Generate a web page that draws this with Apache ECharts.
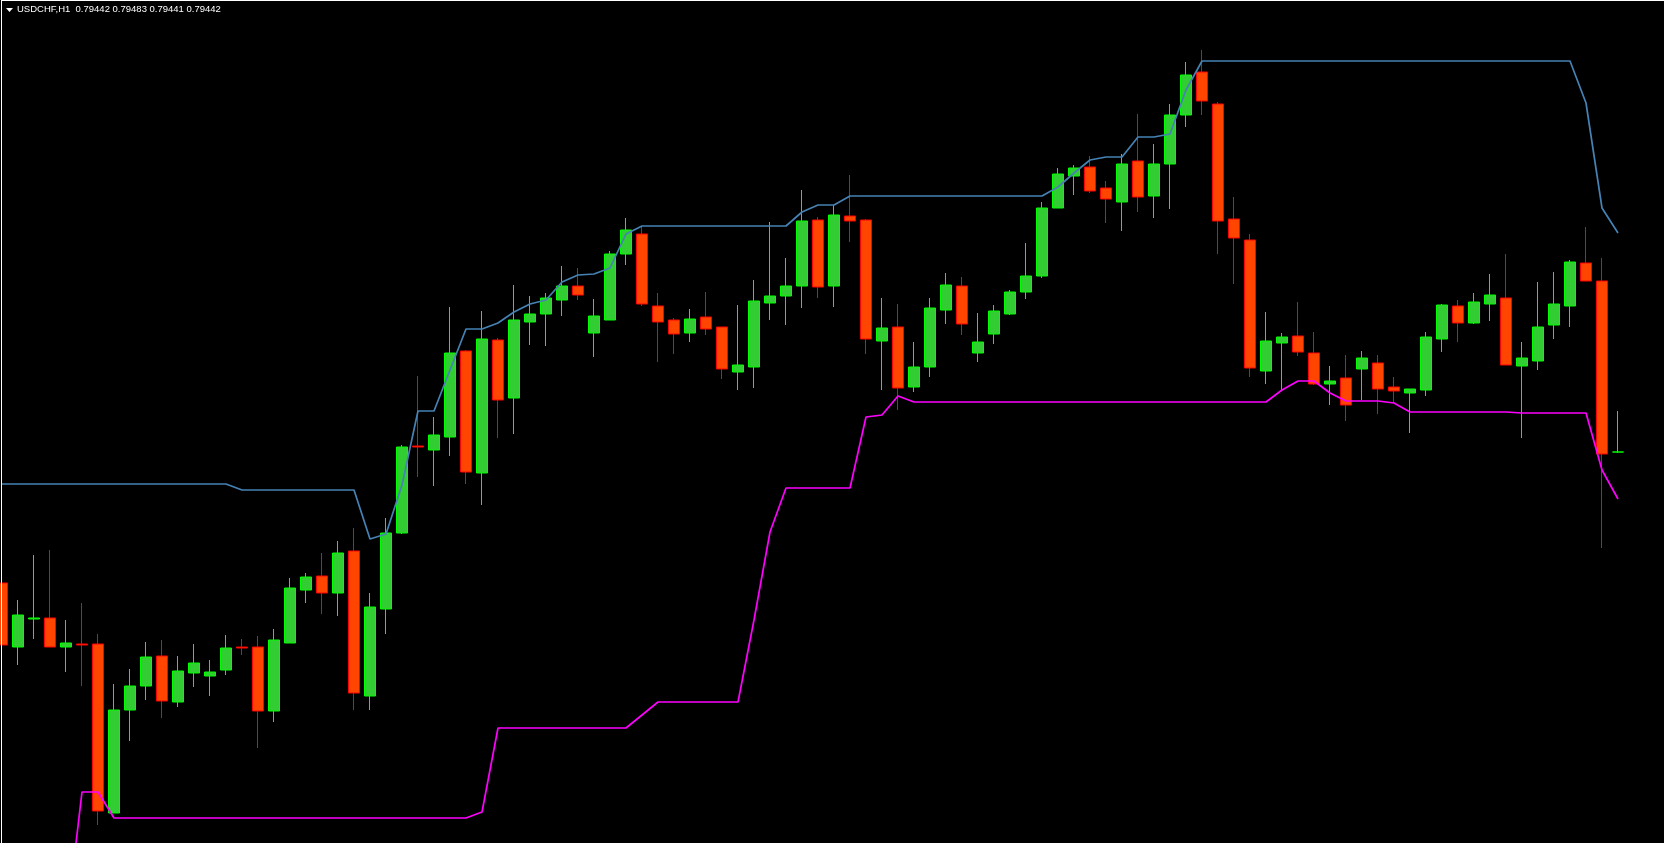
<!DOCTYPE html>
<html>
<head>
<meta charset="utf-8">
<style>
html,body{margin:0;padding:0;background:#000;overflow:hidden;}
#chart{position:absolute;left:-6px;top:0;width:1670px;height:843px;}
</style>
<script src="https://cdn.jsdelivr.net/npm/echarts@6/dist/echarts.min.js"></script>
</head>
<body>
<div id="chart"></div>
<script>
const symbolName = 'USDCHF,H1';
const headerQuote = ['0.79442', '0.79483', '0.79441', '0.79442'];

const opens = [
0.79311,0.79247,0.79275,0.79276,0.79247,0.79250,0.79250,0.79081,0.79184,0.79208,
0.79238,0.79192,0.79221,0.79218,0.79224,0.79247,0.79247,0.79183,0.79251,0.79304,
0.79318,0.79301,0.79343,0.79198,0.79285,0.79361,0.79448,0.79444,0.79457,0.79543,
0.79421,0.79554,0.79496,0.79572,0.79580,0.79594,0.79608,0.79561,0.79574,0.79640,
0.79660,0.79588,0.79574,0.79561,0.79577,0.79567,0.79522,0.79527,0.79591,0.79598,
0.79608,0.79674,0.79608,0.79678,0.79674,0.79553,0.79567,0.79507,0.79527,0.79584,
0.79608,0.79541,0.79560,0.79580,0.79602,0.79618,0.79686,0.79718,0.79727,0.79706,
0.79692,0.79733,0.79698,0.79730,0.79779,0.79822,0.79790,0.79675,0.79654,0.79523,
0.79551,0.79558,0.79541,0.79510,0.79516,0.79525,0.79531,0.79507,0.79501,0.79504,
0.79555,0.79588,0.79571,0.79590,0.79596,0.79528,0.79533,0.79569,0.79588,0.79631,
0.79613,0.79442];

const closes = [
0.79249,0.79279,0.79276,0.79247,0.79251,0.79249,0.79083,0.79184,0.79208,0.79237,
0.79193,0.79223,0.79231,0.79222,0.79246,0.79246,0.79183,0.79254,0.79306,0.79317,
0.79301,0.79341,0.79201,0.79287,0.79361,0.79447,0.79447,0.79459,0.79541,0.79422,
0.79555,0.79494,0.79574,0.79580,0.79596,0.79608,0.79599,0.79578,0.79640,0.79664,
0.79590,0.79572,0.79560,0.79575,0.79565,0.79525,0.79529,0.79593,0.79598,0.79608,
0.79673,0.79607,0.79679,0.79673,0.79555,0.79566,0.79506,0.79527,0.79586,0.79609,
0.79570,0.79552,0.79583,0.79602,0.79618,0.79686,0.79720,0.79726,0.79703,0.79695,
0.79730,0.79697,0.79730,0.79779,0.79819,0.79793,0.79673,0.79656,0.79526,0.79553,
0.79557,0.79542,0.79510,0.79513,0.79489,0.79536,0.79505,0.79503,0.79505,0.79557,
0.79589,0.79571,0.79592,0.79599,0.79529,0.79536,0.79567,0.79590,0.79632,0.79613,
0.79440,0.79442];

const lows = [
0.79235,0.79229,0.79255,0.79247,0.79222,0.79208,0.79069,0.79081,0.79153,0.79194,
0.79176,0.79187,0.79207,0.79198,0.79219,0.79239,0.79146,0.79172,0.79251,0.79291,
0.79280,0.79278,0.79184,0.79184,0.79260,0.79360,0.79417,0.79408,0.79438,0.79410,
0.79389,0.79456,0.79460,0.79549,0.79548,0.79578,0.79594,0.79537,0.79574,0.79629,
0.79588,0.79532,0.79540,0.79552,0.79559,0.79515,0.79504,0.79506,0.79574,0.79569,
0.79586,0.79596,0.79587,0.79652,0.79540,0.79504,0.79484,0.79502,0.79517,0.79570,
0.79559,0.79532,0.79550,0.79579,0.79595,0.79616,0.79686,0.79699,0.79701,0.79671,
0.79663,0.79682,0.79676,0.79685,0.79767,0.79779,0.79640,0.79610,0.79517,0.79510,
0.79504,0.79538,0.79509,0.79489,0.79473,0.79494,0.79480,0.79491,0.79461,0.79498,
0.79542,0.79552,0.79570,0.79573,0.79529,0.79456,0.79524,0.79555,0.79567,0.79613,
0.79346,0.79441];

const highs = [
0.79340,0.79294,0.79339,0.79344,0.79274,0.79291,0.79260,0.79210,0.79225,0.79252,
0.79254,0.79238,0.79250,0.79234,0.79259,0.79255,0.79258,0.79265,0.79316,0.79321,
0.79341,0.79353,0.79366,0.79301,0.79376,0.79449,0.79518,0.79477,0.79587,0.79544,
0.79583,0.79556,0.79609,0.79598,0.79601,0.79628,0.79626,0.79595,0.79643,0.79676,
0.79668,0.79601,0.79576,0.79585,0.79602,0.79567,0.79589,0.79614,0.79672,0.79636,
0.79704,0.79677,0.79689,0.79719,0.79675,0.79596,0.79590,0.79552,0.79596,0.79621,
0.79617,0.79581,0.79589,0.79604,0.79651,0.79692,0.79726,0.79729,0.79738,0.79713,
0.79740,0.79780,0.79750,0.79790,0.79832,0.79844,0.79792,0.79697,0.79660,0.79582,
0.79561,0.79592,0.79562,0.79528,0.79539,0.79543,0.79539,0.79517,0.79505,0.79562,
0.79590,0.79594,0.79601,0.79620,0.79640,0.79552,0.79612,0.79622,0.79634,0.79667,
0.79636,0.79483];

const upperBand = [
0.79410,0.79410,0.79410,0.79410,0.79410,0.79410,0.79410,0.79410,0.79410,0.79410,
0.79410,0.79410,0.79410,0.79410,0.79410,0.79404,0.79404,0.79404,0.79404,0.79404,
0.79404,0.79404,0.79404,0.79355,0.79360,0.79409,0.79483,0.79483,0.79524,0.79565,
0.79565,0.79571,0.79582,0.79590,0.79594,0.79612,0.79619,0.79620,0.79626,0.79660,
0.79668,0.79668,0.79668,0.79668,0.79668,0.79668,0.79668,0.79668,0.79668,0.79668,
0.79682,0.79689,0.79689,0.79698,0.79698,0.79698,0.79698,0.79698,0.79698,0.79698,
0.79698,0.79698,0.79698,0.79698,0.79698,0.79698,0.79707,0.79721,0.79734,0.79737,
0.79737,0.79757,0.79757,0.79760,0.79804,0.79833,0.79833,0.79833,0.79833,0.79833,
0.79833,0.79833,0.79833,0.79833,0.79833,0.79833,0.79833,0.79833,0.79833,0.79833,
0.79833,0.79833,0.79833,0.79833,0.79833,0.79833,0.79833,0.79833,0.79833,0.79791,
0.79686,0.79661];

const lowerBand = [
null,null,null,null,0.78966,0.79102,0.79102,0.79076,0.79076,0.79076,
0.79076,0.79076,0.79076,0.79076,0.79076,0.79076,0.79076,0.79076,0.79076,0.79076,
0.79076,0.79076,0.79076,0.79076,0.79076,0.79076,0.79076,0.79076,0.79076,0.79076,
0.79082,0.79166,0.79166,0.79166,0.79166,0.79166,0.79166,0.79166,0.79166,0.79166,
0.79179,0.79192,0.79192,0.79192,0.79192,0.79192,0.79192,0.79274,0.79362,0.79406,
0.79406,0.79406,0.79406,0.79406,0.79477,0.79479,0.79498,0.79492,0.79492,0.79492,
0.79492,0.79492,0.79492,0.79492,0.79492,0.79492,0.79492,0.79492,0.79492,0.79492,
0.79492,0.79492,0.79492,0.79492,0.79492,0.79492,0.79492,0.79492,0.79492,0.79492,
0.79504,0.79513,0.79513,0.79501,0.79493,0.79493,0.79493,0.79491,0.79482,0.79482,
0.79482,0.79482,0.79482,0.79482,0.79482,0.79481,0.79481,0.79481,0.79481,0.79481,
0.79424,0.79395];

const categories = opens.map((_, i) => 'H' + i);
const ohlc = opens.map((o, i) => [o, closes[i], lows[i], highs[i]]);

// the chart container starts 6px left of the page so the first (cut) candle sits at x≈2
const OFF = 6;
const chart = echarts.init(document.getElementById('chart'), null, {renderer: 'canvas'});
chart.setOption({
  backgroundColor: '#000000',
  animation: false,
  grid: {left: 0, top: 0, width: 1632, height: 843, containLabel: false},
  xAxis: {
    type: 'category', data: categories, boundaryGap: true, show: false
  },
  yAxis: {
    type: 'value', min: 0.79051, max: 0.79894, show: false, splitLine: {show: false}
  },
  series: [
    {
      type: 'candlestick',
      data: ohlc,
      barWidth: 11,
      itemStyle: {
        color: '#32CD32', color0: '#FF4500',
        borderColor: '#00FF00', borderColor0: '#FF0000', borderWidth: 1
      },
      z: 2
    },
    {
      type: 'line', data: upperBand, symbol: 'none', smooth: false,
      lineStyle: {color: '#4682B4', width: 1.7}, z: 3
    },
    {
      type: 'line', data: lowerBand, symbol: 'none', smooth: false, connectNulls: false,
      lineStyle: {color: '#FF00FF', width: 1.7}, z: 3
    }
  ],
  graphic: [
    {type: 'rect', shape: {x: OFF + 1, y: 0, width: 1, height: 843}, style: {fill: '#FFFFFF'}, z: 10},
    {type: 'rect', shape: {x: OFF + 1, y: 0, width: 1663, height: 1}, style: {fill: '#FFFFFF'}, z: 10},
    {type: 'polygon', shape: {points: [[OFF + 6, 8], [OFF + 13, 8], [OFF + 9.5, 12]]}, style: {fill: '#FFFFFF'}, z: 10},
    {
      type: 'text', left: OFF + 17, top: 4, z: 10,
      style: {
        text: symbolName + '  ' + headerQuote.join(' '),
        fill: '#FFFFFF', font: '9.5px "Liberation Sans", Arial, sans-serif'
      }
    }
  ]
});
</script>
</body>
</html>
